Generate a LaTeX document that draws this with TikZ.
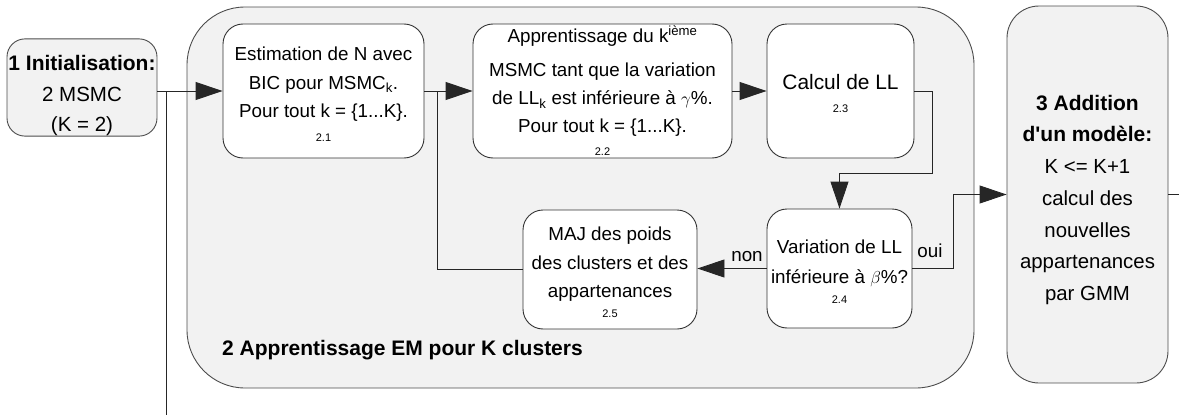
\documentclass[tikz,border=0pt]{standalone}
\usepackage{fontspec}
\setmainfont{Liberation Sans}
\usetikzlibrary{arrows.meta, positioning}
\newcommand{\padtop}[1]{\rule{0pt}{#1}}
\newcommand{\stepno}[1]{{\fontsize{11}{11}\selectfont #1}}
\tikzset{
	phase/.style={rectangle, draw=black!70, fill=gray!10, line width=0.9pt, align=center, inner sep=0pt},
	stagebox/.style={rectangle, rounded corners=20pt, draw=black!80, fill=white, line width=0.9pt, align=center, inner sep=0pt, font=\fontsize{18.8}{28.5}\selectfont},
	answer/.style={inner sep=0pt, font=\fontsize{18.8}{22}\selectfont},
	phasetitle/.style={inner sep=0pt, font=\fontsize{21}{25}\selectfont\bfseries},
	flowarrow/.style={-{Triangle[length=27pt, width=18pt]}, line width=0.9pt, draw=black!85},
	flowline/.style={line width=0.9pt, draw=black!85},
}
\begin{document}
\begin{tikzpicture}[x=1pt, y=-1pt]
	\useasboundingbox (0,0) rectangle (1179,415);
	% phases
	\node[phase, rounded corners=58pt, minimum width=787pt, minimum height=381pt] (em) at (580.5,197.5) {};
	\node[phasetitle, anchor=base west] (emtitle) at (222,355) {2 Apprentissage EM pour K clusters};
	\node[phase, rounded corners=18pt, minimum width=150pt, minimum height=97pt, font=\fontsize{20.5}{30.5}\selectfont] (init) at (82,87.5)
		{\padtop{32pt}{\fontsize{21}{30.5}\selectfont\bfseries 1 Initialisation:}\\2 MSMC\\(K = 2)};
	\node[phase, rounded corners=32pt, minimum width=161pt, minimum height=377pt, font=\fontsize{20.4}{31.7}\selectfont] (add) at (1087.5,194.5)
		{\padtop{26pt}{\fontsize{21}{31.7}\selectfont\bfseries 3 Addition}\\{\fontsize{21}{31.7}\selectfont\bfseries d\textquotesingle un modèle:}\\K <= K+1\\calcul des\\nouvelles\\appartenances\\par GMM};
	% steps of the EM loop
	\node[stagebox, minimum width=201pt, minimum height=134pt] (e21) at (323.5,91)
		{\padtop{20pt}Estimation de N avec\\BIC pour MSMC\textsubscript{k}.\\Pour tout k = \{1...K\}.\\[-4.5pt]\stepno{2.1}};
	\node[stagebox, minimum width=259pt, minimum height=134pt] (e22) at (602.5,91)
		{Apprentissage du k\textsuperscript{ième}\\[5.5pt]MSMC tant que la variation\\de LL\textsubscript{k} est inférieure à $\gamma\%$.\\[-1pt]Pour tout k = \{1...K\}.\\[-5pt]\stepno{2.2}};
	\node[stagebox, minimum width=147pt, minimum height=134pt, font=\fontsize{20.9}{28.5}\selectfont] (e23) at (840.5,91)
		{\padtop{20pt}Calcul de LL\\[-6pt]\stepno{2.3}};
	\node[stagebox, minimum width=145pt, minimum height=119pt] (e24) at (839.5,268.5)
		{\padtop{20pt}Variation de LL\\[1.5pt]inférieure à $\beta\%$?\\[-8.5pt]\stepno{2.4}};
	\node[stagebox, minimum width=174pt, minimum height=119pt] (e25) at (610,269.5)
		{\padtop{20pt}MAJ des poids\\des clusters et des\\appartenances\\[-8.5pt]\stepno{2.5}};
	% junctions and loose ends
	\coordinate (j0) at (166,91);
	\coordinate (j1) at (437,91);
	\coordinate (c1) at (932,173);
	\coordinate (c2) at (953,194.5);
	\coordinate (loopin) at (166,415);
	\coordinate (loopout) at (1179,194.5);
	% connectors
	\draw[flowarrow] (init.east |- j0) -- (e21.west |- j0);
	\draw[flowline] (loopin) -- (j0);
	\draw[flowarrow] (e21) -- (e22);
	\draw[flowline] (e25.west) -| (j1);
	\draw[flowarrow] (e22) -- (e23);
	\draw[flowarrow] (e23.east) -| (c1) -| (e24.north);
	\draw[flowarrow] (e24.west) -- (e25.east |- e24.west);
	\draw[flowarrow] (e24.east) -| (c2) -- (add.west);
	\draw[flowline] (add.east) -- (loopout);
	\node[answer, anchor=base] (no) at (747,261) {non};
	\node[answer, anchor=base] (yes) at (930,257) {oui};
\end{tikzpicture}
\end{document}
